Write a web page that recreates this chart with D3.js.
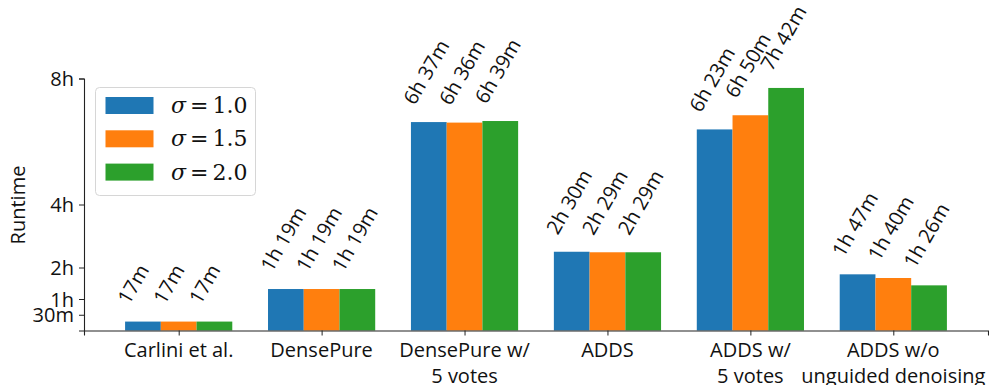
<!DOCTYPE html>
<html>
<head>
<meta charset="utf-8">
<script src="https://cdn.jsdelivr.net/npm/d3@7"></script>
<style>
  html, body { margin: 0; padding: 0; background: #fff; }
  svg { display: block; }
  .sans { font-family: "Open Sans", "DejaVu Sans", sans-serif; }
</style>
</head>
<body>
<svg id="chart" width="989" height="385"></svg>
<script>
// Runtime (minutes) per method, one array per noise level
const categories = [["Carlini et al."], ["DensePure"], ["DensePure w/", "5 votes"], ["ADDS"], ["ADDS w/", "5 votes"], ["ADDS w/o", "unguided denoising"]];
const sigmaLabels = ["1.0", "1.5", "2.0"];
const sigma10 = [17, 79, 397, 150, 383, 107];
const sigma15 = [17, 79, 396, 149, 410, 100];
const sigma20 = [17, 79, 399, 149, 462, 86];
const yTickValues = [30, 60, 120, 240, 480];
const yTickLabels = ["30m", "1h", "2h", "4h", "8h"];
const colors = ["#1f77b4", "#ff7f0e", "#2ca02c"];

const series = [sigma10, sigma15, sigma20];

function fmt(m) {
  const h = Math.floor(m / 60), r = m % 60;
  return h > 0 ? `${h}h ${r}m` : `${r}m`;
}

const svg = d3.select("#chart");
const plotLeft = 84, plotRight = 988, plotBottom = 330.5, plotTop = 78.5;

const x = d3.scaleLinear().domain([-0.6625, categories.length - 1 + 0.6625]).range([plotLeft, plotRight]);
const inner = d3.scaleBand().domain(d3.range(series.length)).range([-0.375, 0.375]);
const y = d3.scaleLinear().domain([0, 480]).range([plotBottom, plotTop]);
const unit = x(1) - x(0);

// bars
const g = svg.append("g");
series.forEach((vals, s) => {
  g.selectAll(null).data(vals).enter().append("rect")
    .attr("x", (d, i) => x(i + inner(s)))
    .attr("width", inner.bandwidth() * unit)
    .attr("y", d => y(d))
    .attr("height", d => y(0) - y(d))
    .attr("fill", colors[s]);
});

// value labels above bars
series.forEach((vals, s) => {
  g.selectAll(null).data(vals).enter().append("text")
    .attr("class", "sans")
    .attr("font-size", 20)
    .attr("fill", "#111")
    .attr("transform", (d, i) => {
      const cx = x(i + inner(s) + inner.bandwidth() / 2);
      return `translate(${cx - 14},${y(d) - 16}) rotate(-60)`;
    })
    .text(d => fmt(d));
});

// y axis
const yAxis = d3.axisLeft(y).tickValues(yTickValues).tickFormat((d, i) => yTickLabels[i]).tickSizeOuter(0).tickSize(5).tickPadding(5);
const ya = svg.append("g").attr("transform", `translate(${plotLeft},0)`).call(yAxis);
ya.select(".domain").attr("stroke", "#222").attr("stroke-width", 1.1);
ya.selectAll(".tick line").attr("stroke", "#222");
ya.selectAll(".tick text").attr("class", "sans").attr("font-size", 20).attr("fill", "#111").attr("dy", "0.35em");

// x axis
const xAxis = d3.axisBottom(x).tickValues(d3.range(categories.length)).tickFormat("").tickSizeOuter(0).tickSize(5);
const xa = svg.append("g").attr("transform", `translate(0,${plotBottom})`).call(xAxis);
xa.select(".domain").attr("stroke", "#222").attr("stroke-width", 1.1);
xa.selectAll(".tick line").attr("stroke", "#222");

const xl = svg.append("g");
categories.forEach((lines, i) => {
  const t = xl.append("text").attr("class", "sans").attr("font-size", 20).attr("fill", "#111")
    .attr("text-anchor", "middle").attr("x", x(i)).attr("y", 357);
  lines.forEach((ln, k) => {
    t.append("tspan").attr("x", x(i)).attr("dy", k === 0 ? 0 : 26).text(ln);
  });
});

// y axis title
svg.append("text").attr("class", "sans").attr("font-size", 20).attr("fill", "#111")
  .attr("text-anchor", "middle")
  .attr("transform", `translate(25,205) rotate(-90)`)
  .text("Runtime");

// legend
const lg = svg.append("g");
lg.append("rect").attr("x", 95.5).attr("y", 87.5).attr("width", 160).attr("height", 108)
  .attr("rx", 4).attr("fill", "#fff").attr("fill-opacity", 0.8).attr("stroke", "#d6d6d6");
sigmaLabels.forEach((lab, s) => {
  const yy = 97 + s * 33.3;
  lg.append("rect").attr("x", 105.5).attr("y", yy).attr("width", 48).attr("height", 17).attr("fill", colors[s]);
  const t = lg.append("text").attr("x", 171).attr("y", yy + 16).attr("font-size", 22)
    .attr("font-family", "'DejaVu Serif', 'Liberation Serif', serif").attr("fill", "#111");
  t.append("tspan").attr("font-style", "italic").text("σ");
  t.append("tspan").attr("dx", 4).text("=");
  t.append("tspan").attr("dx", 4).text(lab);
});
</script>
</body>
</html>
